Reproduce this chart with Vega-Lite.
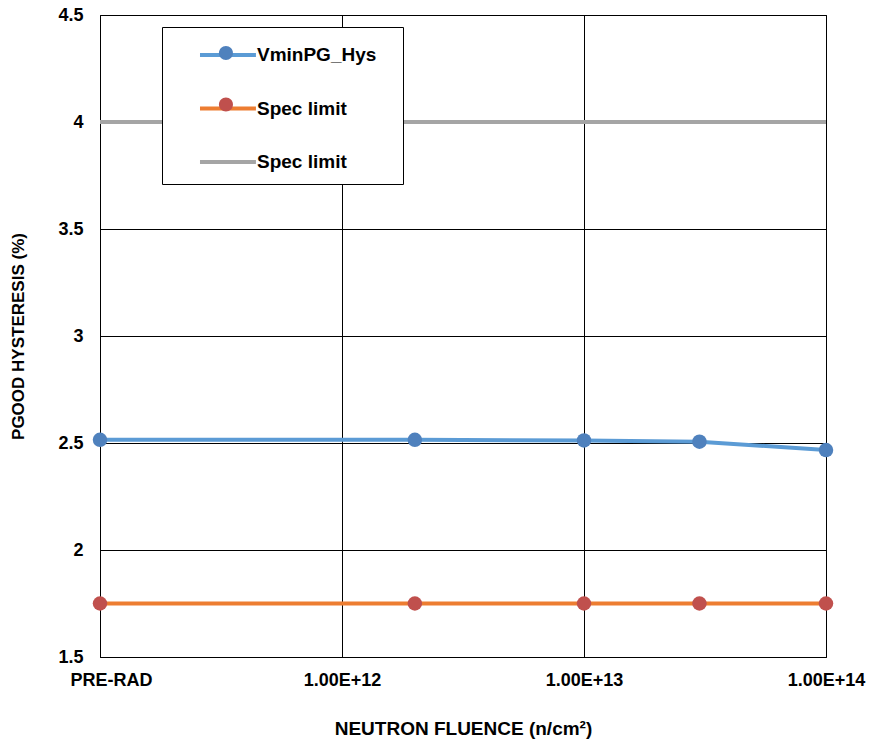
{
  "$schema": "https://vega.github.io/schema/vega-lite/v6.json",
  "width": 726,
  "height": 642,
  "autosize": "none",
  "padding": {"left": 100, "top": 15, "right": 43, "bottom": 85},
  "background": "white",
  "config": {
    "font": "Liberation Sans",
    "view": {"stroke": "black", "strokeWidth": 1}
  },
  "data": {
    "values": [
      {"fluence": 1e11, "value": 2.515, "series": "VminPG_Hys"},
      {"fluence": 2e12, "value": 2.515, "series": "VminPG_Hys"},
      {"fluence": 1e13, "value": 2.512, "series": "VminPG_Hys"},
      {"fluence": 3e13, "value": 2.506, "series": "VminPG_Hys"},
      {"fluence": 1e14, "value": 2.467, "series": "VminPG_Hys"},
      {"fluence": 1e11, "value": 1.75, "series": "Spec limit"},
      {"fluence": 2e12, "value": 1.75, "series": "Spec limit"},
      {"fluence": 1e13, "value": 1.75, "series": "Spec limit"},
      {"fluence": 3e13, "value": 1.75, "series": "Spec limit"},
      {"fluence": 1e14, "value": 1.75, "series": "Spec limit"},
      {"fluence": 1e11, "value": 4, "series": "Spec limit2"},
      {"fluence": 2e12, "value": 4, "series": "Spec limit2"},
      {"fluence": 1e13, "value": 4, "series": "Spec limit2"},
      {"fluence": 3e13, "value": 4, "series": "Spec limit2"},
      {"fluence": 1e14, "value": 4, "series": "Spec limit2"}
    ]
  },
  "encoding": {
    "x": {
      "field": "fluence",
      "type": "quantitative",
      "scale": {"type": "log", "domain": [1e11, 1e14], "nice": false},
      "axis": {
        "values": [1e11, 1e12, 1e13, 1e14],
        "labelExpr": "datum.value < 5e11 ? 'PRE-RAD' : upper(format(datum.value, '.2e'))",
        "grid": true,
        "gridColor": "black",
        "gridOpacity": 1,
        "gridWidth": 1,
        "domain": false,
        "ticks": false,
        "labelPadding": 14,
        "labelOffset": {"condition": {"test": "datum.value < 5e11", "value": 11}, "value": 0},
        "labelFontSize": 18,
        "labelFontWeight": "bold",
        "labelColor": "black",
        "labelFlush": false,
        "title": "NEUTRON FLUENCE (n/cm²)",
        "titleFontSize": 19,
        "titleFontWeight": "bold",
        "titleColor": "black",
        "titlePadding": 30
      }
    },
    "y": {
      "field": "value",
      "type": "quantitative",
      "scale": {"domain": [1.5, 4.5], "nice": false, "zero": false},
      "axis": {
        "values": [1.5, 2, 2.5, 3, 3.5, 4, 4.5],
        "format": "~g",
        "grid": true,
        "gridColor": "black",
        "gridOpacity": 1,
        "gridWidth": 1,
        "domain": false,
        "ticks": false,
        "labelPadding": 17,
        "labelFontSize": 18,
        "labelFontWeight": "bold",
        "labelColor": "black",
        "labelFlush": false,
        "title": "PGOOD HYSTERESIS (%)",
        "titleFontSize": 17,
        "titleFontWeight": "bold",
        "titleColor": "black",
        "titlePadding": 30
      }
    }
  },
  "layer": [
    {
      "mark": {"type": "line", "strokeWidth": 4},
      "encoding": {
        "stroke": {
          "field": "series",
          "type": "nominal",
          "scale": {
            "domain": ["VminPG_Hys", "Spec limit", "Spec limit2"],
            "range": ["#5B9BD5", "#ED7D31", "#A5A5A5"]
          },
          "legend": {
            "orient": "none",
            "legendX": 62,
            "legendY": 12,
            "title": null,
            "direction": "vertical",
            "strokeColor": "black",
            "fillColor": "white",
            "padding": 12,
            "symbolType": "M0.714,0H4.71",
            "symbolSize": 784,
            "symbolStrokeWidth": 4,
            "rowPadding": 27.5,
            "labelOffset": 51,
            "labelFontSize": 19,
            "labelFontWeight": "bold",
            "labelColor": "black",
            "labelExpr": "(datum.label == 'Spec limit2' ? 'Spec limit' : datum.label) + '\u2800'"
          }
        }
      }
    },
    {
      "transform": [{"filter": "datum.series != 'Spec limit2'"}],
      "mark": {"type": "point", "filled": true, "size": 210, "opacity": 1},
      "encoding": {
        "fill": {
          "field": "series",
          "type": "nominal",
          "scale": {
            "domain": ["VminPG_Hys", "Spec limit"],
            "range": ["#4F81BD", "#C0504D"]
          },
          "legend": {
            "orient": "none",
            "legendX": 62,
            "legendY": 12,
            "title": null,
            "direction": "vertical",
            "padding": 12,
            "symbolType": "M2.21,0A0.5,0.5 0 1 1 3.21,0A0.5,0.5 0 1 1 2.21,0Z",
            "symbolSize": 784,
            "symbolStrokeWidth": 0,
            "symbolOpacity": 1,
            "rowPadding": 27.5,
            "labelOffset": 51,
            "labelFontSize": 19,
            "labelFontWeight": "bold",
            "labelOpacity": 0,
            "labelExpr": "'\u2800'"
          }
        }
      }
    }
  ]
}
